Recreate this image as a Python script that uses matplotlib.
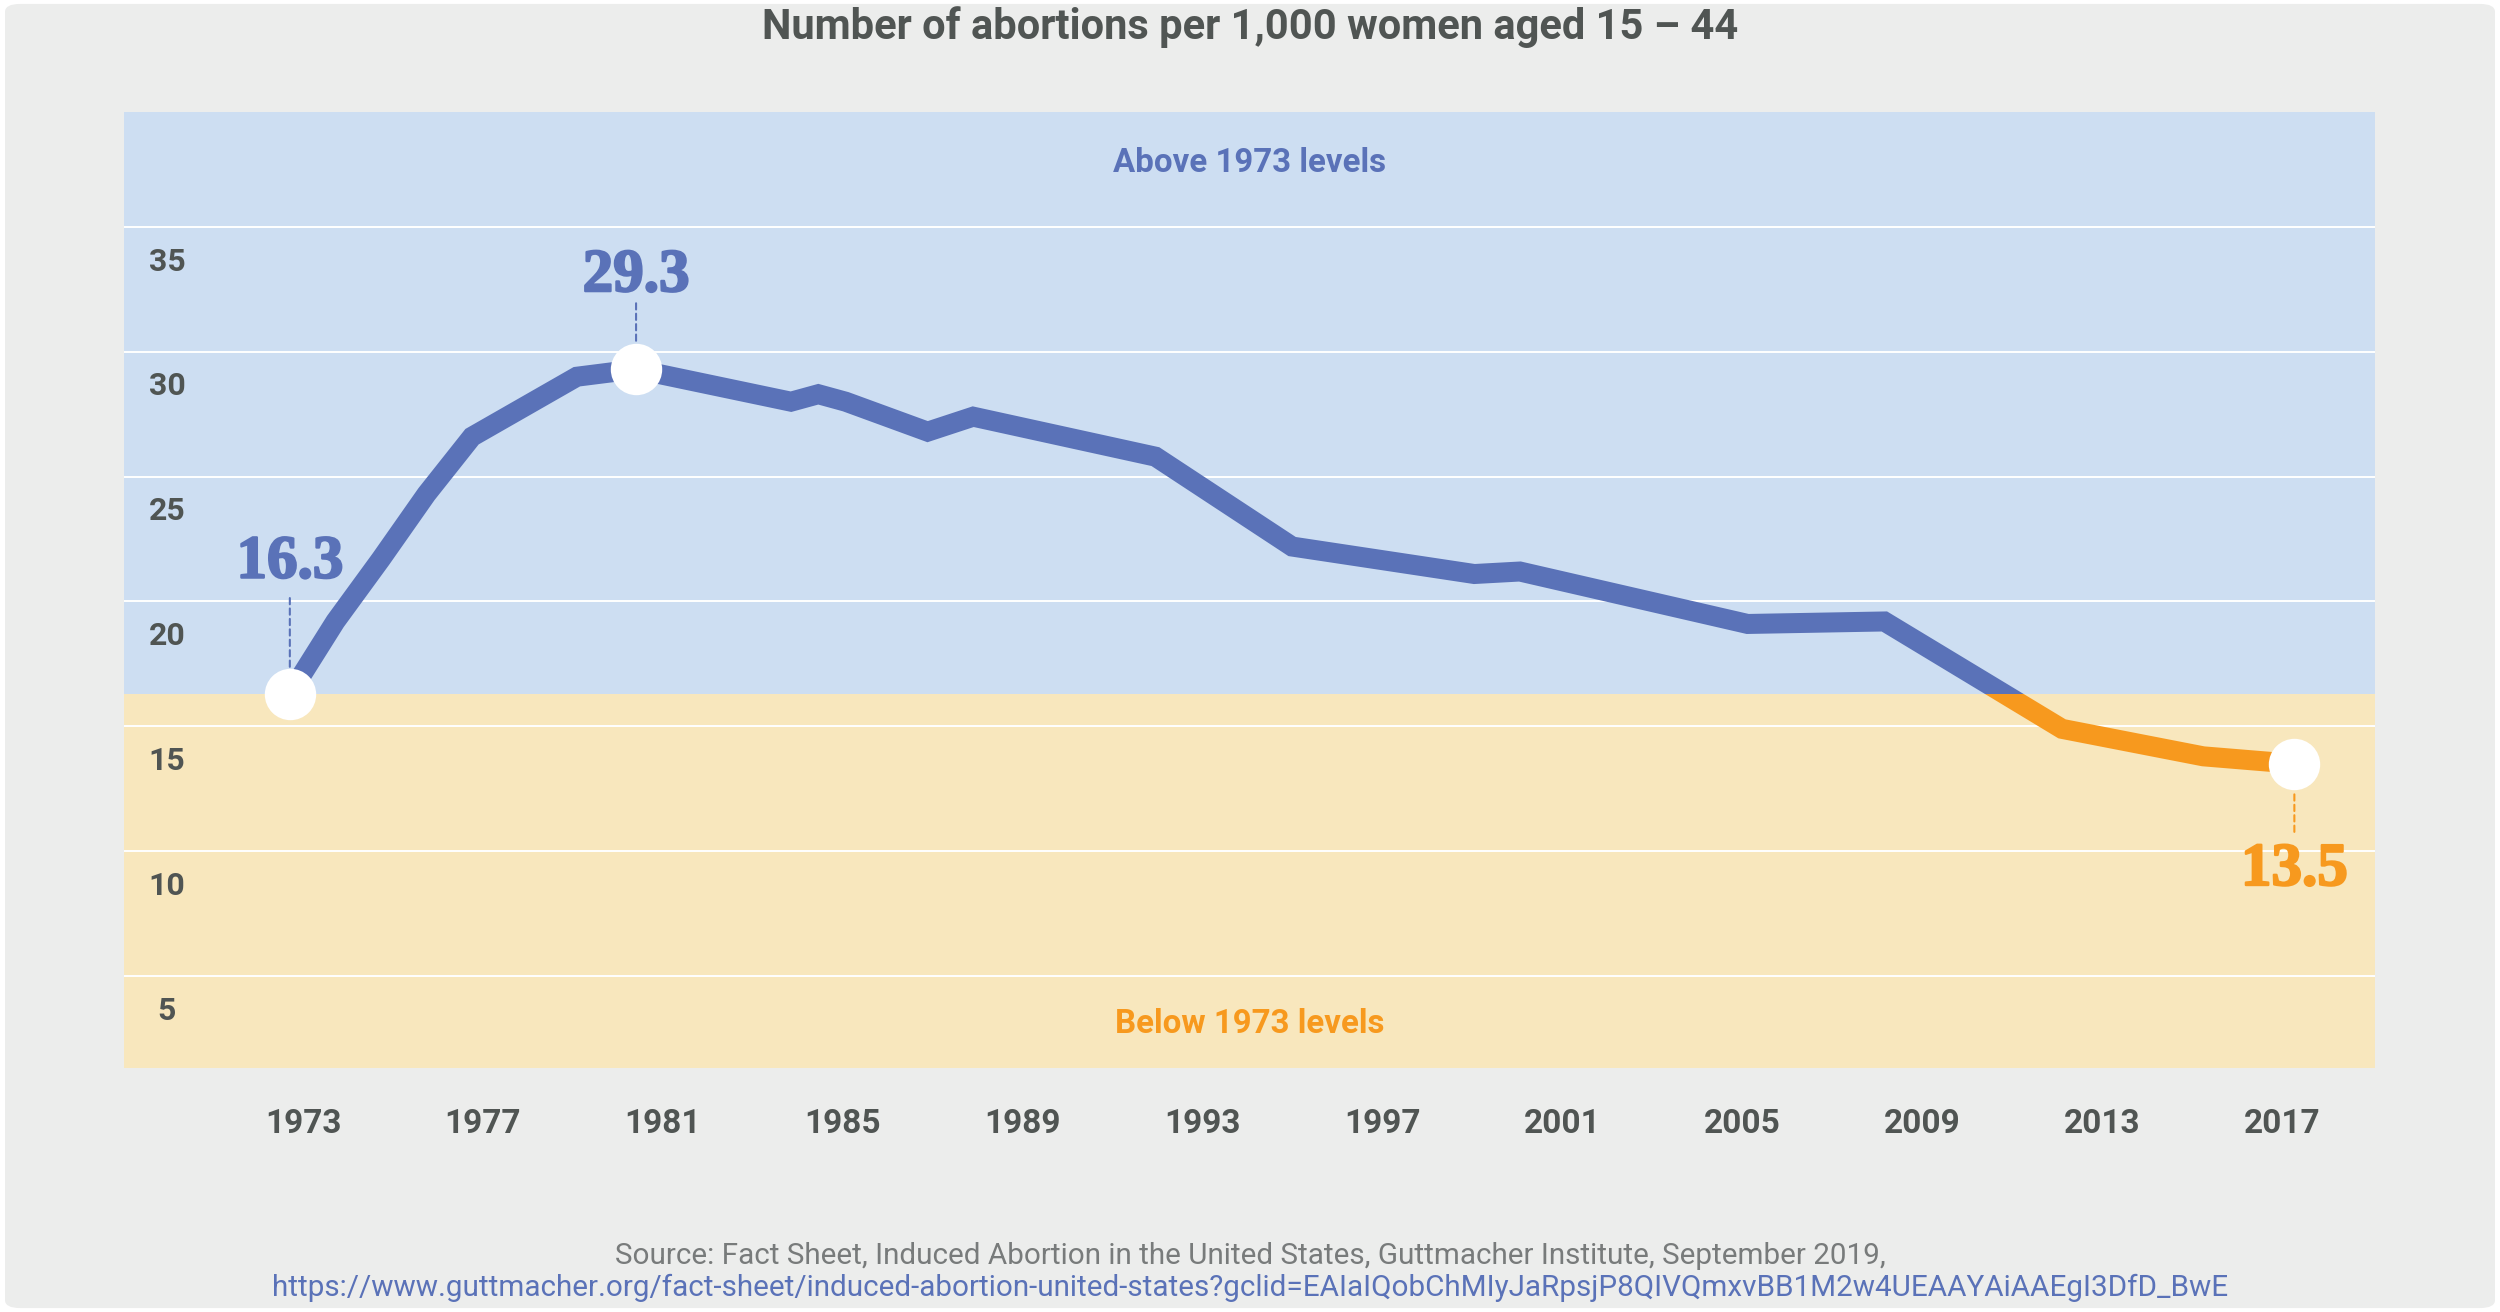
import matplotlib
matplotlib.use("Agg")
import matplotlib.pyplot as plt
import matplotlib.patheffects as pe
from matplotlib.patches import Rectangle, FancyBboxPatch

# values
years = [1973, 1974, 1975, 1976, 1977, 1979.3, 1980.6, 1984, 1984.6, 1985.2, 1987, 1988,
         1992, 1995, 1999, 2000, 2005, 2008, 2011.9, 2015, 2017]
rates = [16.3, 19.2, 21.7, 24.3, 26.6, 29.0, 29.3, 28.0, 28.3, 28.0, 26.8, 27.4,
         25.8, 22.2, 21.1, 21.2, 19.1, 19.2, 14.9, 13.8, 13.5]

year_ticks = [1973, 1977, 1981, 1985, 1989, 1993, 1997, 2001, 2005, 2009, 2013, 2017]
rate_ticks = [5, 10, 15, 20, 25, 30, 35]

# highlighted points
callouts_year = [1973, 1980.6, 2017]
callouts_rate = [16.3, 29.3, 13.5]
callouts_text = ["16.3", "29.3", "13.5"]

baseline = rates[0]

BG = "#ECEDEC"
BLUE_BAND = "#CDDEF2"
YELLOW_BAND = "#F8E7BD"
BLUE = "#5A72B8"
ORANGE = "#F7991E"
DARK = "#505553"
GRAY = "#787B7B"

plt.rcParams["font.family"] = ["Roboto", "DejaVu Sans"]

fig = plt.figure(figsize=(25, 13.12), dpi=100, facecolor="white")
fig.patches.append(FancyBboxPatch((0.002, 0.003), 0.996, 0.994, boxstyle="round,pad=0,rounding_size=0.006",
                                  transform=fig.transFigure, facecolor=BG, edgecolor="none", zorder=-10))

ax = fig.add_axes([124 / 2500, 1 - 1068 / 1312, (2375 - 124) / 2500, (1068 - 112) / 1312])
ax.set_xlim(1969.36, 2018.77)
ax.set_ylim(1.32, 39.6)

ax.axhspan(baseline, 50, color=BLUE_BAND, zorder=0, lw=0)
ax.axhspan(-10, baseline, color=YELLOW_BAND, zorder=0, lw=0)

ax.set_yticks(rate_ticks)
ax.grid(axis="y", color="white", lw=1.4, zorder=0.5)
ax.set_axisbelow(True)
for s in ax.spines.values():
    s.set_visible(False)
ax.tick_params(axis="both", length=0, labelleft=False, labelbottom=False)

# year labels on their own (slightly differently spaced) scale, like the original
axt = ax.twiny()
axt.set_xlim(1969.02, 2019.07)
axt.xaxis.set_ticks_position("bottom")
axt.set_xticks(year_ticks)
axt.set_xticklabels([str(y) for y in year_ticks])
axt.tick_params(axis="x", length=0, pad=29, labelsize=24, labelcolor=DARK)
for lab in axt.get_xticklabels():
    lab.set_fontweight("bold")
for s in axt.spines.values():
    s.set_visible(False)

# y labels sit just below their gridlines
for v in rate_ticks:
    ax.annotate(str(v), xy=(0.0191, v), xycoords=ax.get_yaxis_transform(),
                xytext=(0, -25), textcoords="offset points", ha="center", va="center",
                fontsize=23, fontweight="bold", color=DARK)

# line split in colour at the 1973 level
x0, x1 = ax.get_xlim()
above = Rectangle((x0, baseline), x1 - x0, 100, transform=ax.transData)
below = Rectangle((x0, -100), x1 - x0, 100 + baseline, transform=ax.transData)
l1, = ax.plot(years, rates, color=BLUE, lw=14.4, solid_joinstyle="miter", solid_capstyle="butt", zorder=3)
l1.set_clip_path(above)
l2, = ax.plot(years, rates, color=ORANGE, lw=14.4, solid_joinstyle="miter", solid_capstyle="butt", zorder=3)
l2.set_clip_path(below)

ax.plot(callouts_year, callouts_rate, "o", ms=37, mfc="white", mec="none", zorder=5)

# (label offset, dashed line start offset) in points from the point
offsets = [(94.5, 69), (67, 47.5), (-76.5, -49)]
for yr, rt, txt, (dy, ly) in zip(callouts_year, callouts_rate, callouts_text, offsets):
    col = BLUE if rt >= baseline else ORANGE
    ax.annotate(txt, xy=(yr, rt), xytext=(0, dy), textcoords="offset points",
                ha="center", va="center", fontsize=44, fontweight="bold",
                family=["Liberation Serif", "DejaVu Serif"], color=col, zorder=6,
                path_effects=[pe.withStroke(linewidth=1.6, foreground=col)])
    ax.annotate("", xy=(yr, rt), xytext=(0, ly), textcoords="offset points", zorder=4,
                arrowprops=dict(arrowstyle="-", color=col, lw=1.5, linestyle=(0, (3, 2)),
                                shrinkA=0, shrinkB=19))

ax.text(0.5, 0.947, "Above 1973 levels", transform=ax.transAxes, ha="center", va="center",
        fontsize=23.8, fontweight="bold", color=BLUE)
ax.text(0.5, 0.046, "Below 1973 levels", transform=ax.transAxes, ha="center", va="center",
        fontsize=23.8, fontweight="bold", color=ORANGE)

fig.text(0.5, 1 - 27 / 1312, "Number of abortions per 1,000 women aged 15 \u2013 44",
         ha="center", va="center", fontsize=30, fontweight="bold", color=DARK)
fig.text(0.5, 1 - 1256 / 1312,
         "Source: Fact Sheet, Induced Abortion in the United States, Guttmacher Institute, September 2019,",
         ha="center", va="center", fontsize=21.3, color=GRAY)
fig.text(0.5, 1 - 1288 / 1312,
         "https://www.guttmacher.org/fact-sheet/induced-abortion-united-states?gclid=EAIaIQobChMIyJaRpsjP8QIVQmxvBB1M2w4UEAAYAiAAEgI3DfD_BwE",
         ha="center", va="center", fontsize=21.3, color=BLUE)

fig.savefig("out.png", dpi=100, facecolor=fig.get_facecolor())
